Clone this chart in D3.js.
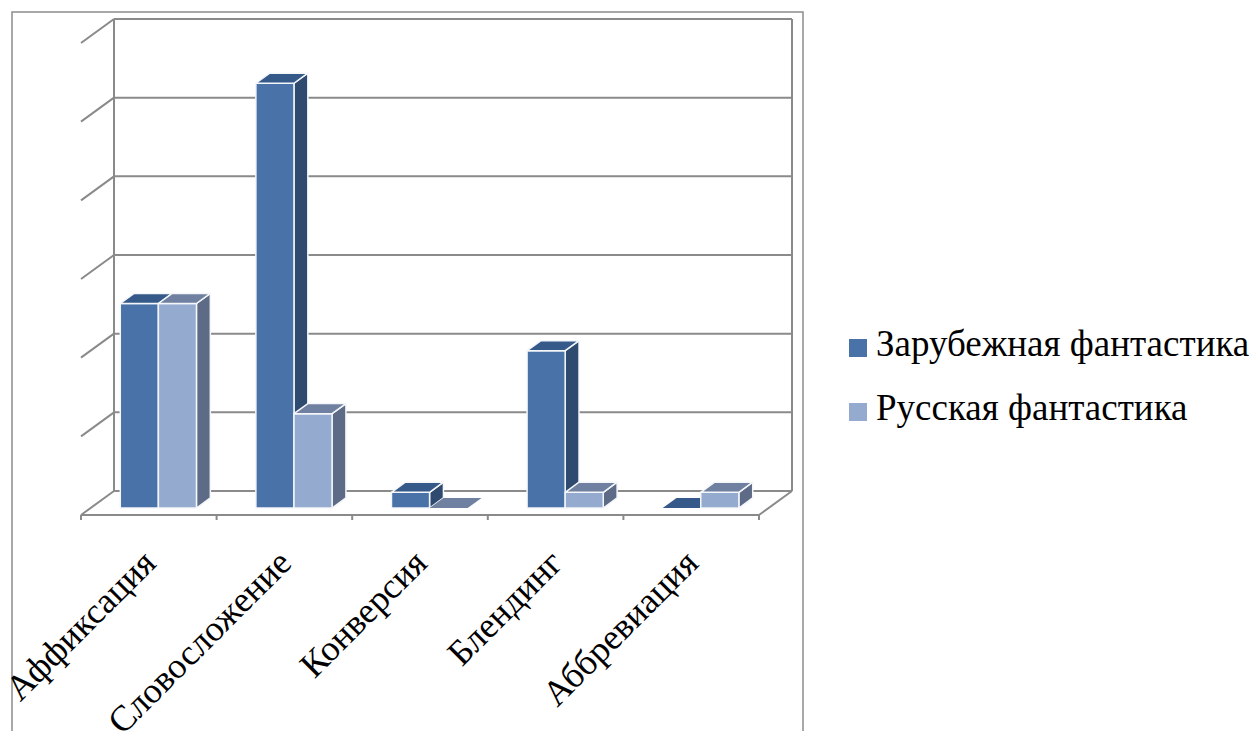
<!DOCTYPE html>
<html><head><meta charset="utf-8">
<script src="https://cdn.jsdelivr.net/npm/d3@7/dist/d3.min.js"></script>
<style>html,body{margin:0;padding:0;background:#fff;overflow:hidden}</style>
</head><body>
<svg id="c" width="1256" height="731"></svg>
<script>
const categories = ["Аффиксация","Словосложение","Конверсия","Блендинг","Аббревиация"];
const seriesNames = ["Зарубежная фантастика","Русская фантастика"];
const foreignValues = [13, 27, 1, 10, 0];
const russianValues = [13, 6, 0, 1, 1];
const yTicks = [0,5,10,15,20,25,30];

const svg = d3.select("#c");
const font = "Liberation Serif";
const gridCol = "#8a8a8a";

const frontLeft = 81, frontRight = 759, frontY = 515;
const depthX = 33, depthY = 24;
const yBack = d3.scaleLinear().domain([0,30]).range([491,19]);
const x = d3.scaleBand().domain(categories).range([frontLeft, frontRight]).paddingInner(0).paddingOuter(0);
const xs = d3.scaleBand().domain(seriesNames).range([0, x.bandwidth()]).paddingInner(0).paddingOuter(0.78);

function P(px, v, d){ return [px + d*depthX, yBack(v) + (1-d)*depthY]; }

svg.append("rect").attr("x",12).attr("y",12).attr("width",791).attr("height",760)
  .attr("fill","none").attr("stroke","#8c8c8c").attr("stroke-width",1.5);

const g = svg.append("g");
g.selectAll("line.grid").data(yTicks).join("line")
  .attr("x1", P(frontLeft,0,1)[0]).attr("x2", P(frontRight,0,1)[0])
  .attr("y1", d=>yBack(d)).attr("y2", d=>yBack(d))
  .attr("stroke", gridCol).attr("stroke-width",2);
g.append("line").attr("x1",P(frontLeft,0,1)[0]).attr("x2",P(frontLeft,0,1)[0])
  .attr("y1",yBack(0)).attr("y2",yBack(30)).attr("stroke",gridCol).attr("stroke-width",2);
g.append("line").attr("x1",P(frontRight,0,1)[0]).attr("x2",P(frontRight,0,1)[0])
  .attr("y1",yBack(0)).attr("y2",yBack(30)).attr("stroke",gridCol).attr("stroke-width",2);
g.selectAll("line.ltick").data(yTicks).join("line")
  .attr("x1", P(frontLeft,0,1)[0]).attr("y1", d=>P(frontLeft,d,1)[1])
  .attr("x2", P(frontLeft,0,0)[0]).attr("y2", d=>P(frontLeft,d,0)[1])
  .attr("stroke", gridCol).attr("stroke-width",2);
g.append("path").attr("d", d3.line()([P(frontLeft,0,0),P(frontRight,0,0),P(frontRight,0,1)]))
  .attr("fill","none").attr("stroke",gridCol).attr("stroke-width",2);
const tickXs = categories.map(c=>x(c)).concat([frontRight]);
g.selectAll("line.ctick").data(tickXs).join("line")
  .attr("x1",d=>d).attr("x2",d=>d).attr("y1",frontY).attr("y2",frontY+5)
  .attr("stroke",gridCol).attr("stroke-width",2);

const colors = {
  "Зарубежная фантастика": {front:"#4872a8", top:"#355a8a", side:"#2e4a6e"},
  "Русская фантастика": {front:"#95aacf", top:"#6f80a0", side:"#5d6b86"}
};
const d0 = 0.29, d1 = 0.71;
const bars = [];
categories.forEach((c,i)=>{
  seriesNames.forEach((s,j)=>{
    bars.push({cat:c, ser:s, v: (j===0?foreignValues:russianValues)[i]});
  });
});
const bg = svg.append("g");
bars.forEach(b=>{
  const xl = x(b.cat) + xs(b.ser), xr = xl + xs.bandwidth();
  const col = colors[b.ser];
  const st = {stroke:"#f4f6fa", sw:1.5};
  const line = d3.line();
  if (b.v>0){
    bg.append("path").attr("d", line([P(xr,0,d0),P(xr,0,d1),P(xr,b.v,d1),P(xr,b.v,d0)])+"Z")
      .attr("fill",col.side).attr("stroke",st.stroke).attr("stroke-width",st.sw).attr("stroke-linejoin","round");
    bg.append("path").attr("d", line([P(xl,0,d0),P(xr,0,d0),P(xr,b.v,d0),P(xl,b.v,d0)])+"Z")
      .attr("fill",col.front).attr("stroke",st.stroke).attr("stroke-width",st.sw).attr("stroke-linejoin","round");
  }
  bg.append("path").attr("d", line([P(xl,b.v,d0),P(xr,b.v,d0),P(xr,b.v,d1),P(xl,b.v,d1)])+"Z")
    .attr("fill",col.top).attr("stroke",b.v>0?st.stroke:"none").attr("stroke-width",st.sw).attr("stroke-linejoin","round");
});

svg.selectAll("text.cat").data(categories).join("text")
  .attr("transform", d=>`translate(${x(d)+x.bandwidth()/2+9},565) rotate(-45)`)
  .attr("text-anchor","end")
  .style("font-family",font).attr("font-size",36).attr("fill","#000")
  .text(d=>d);

const lg = svg.append("g");
seriesNames.forEach((s,i)=>{
  const y0 = 339 + i*64;
  lg.append("rect").attr("x",849).attr("y",y0).attr("width",18).attr("height",18).attr("fill",colors[s].front);
  lg.append("text").attr("x",876).attr("y",y0+17).style("font-family",font).attr("font-size",37).attr("fill","#000").text(s);
});
</script>
</body></html>
